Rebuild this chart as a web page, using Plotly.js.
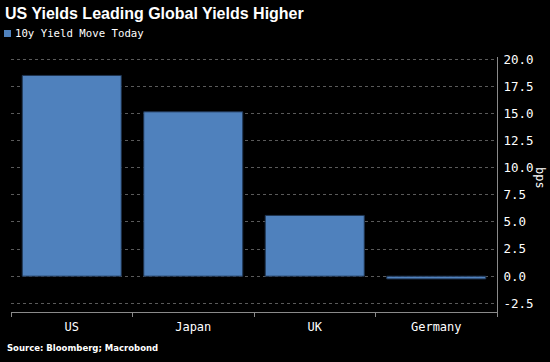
<!DOCTYPE html>
<html>
<head>
<meta charset="utf-8">
<script src="https://cdn.plot.ly/plotly-3.0.1.min.js"></script>
<style>
html,body{margin:0;padding:0;background:#000;}
#chart{width:550px;height:362px;}
</style>
</head>
<body>
<div id="chart"></div>
<script>
const categories = ["US", "Japan", "UK", "Germany"];
const yieldMove = [18.5, 15.15, 5.6, -0.25];
const tickVals = [-2.5, 0, 2.5, 5, 7.5, 10, 12.5, 15, 17.5, 20];
const tickText = ["-2.5", "0.0", "2.5", "5.0", "7.5", "10.0", "12.5", "15.0", "17.5", "20.0"];
const seriesName = "10y Yield Move Today";

const W = 550, H = 362, L = 11, R = 53, T = 57, B = 50;
const pw = W - L - R;
const px = v => (v - L) / pw;

const trace = {
  type: "bar",
  x: categories,
  y: yieldMove,
  name: seriesName,
  marker: {color: "#4f81bd", line: {color: "#1f3450", width: 1}},
  hoverinfo: "x+y"
};

const layout = {
  width: W, height: H,
  margin: {l: L, r: R, t: T, b: B, pad: 0},
  paper_bgcolor: "#000000",
  plot_bgcolor: "#000000",
  showlegend: false,
  bargap: 0.185,
  font: {family: "DejaVu Sans Mono", color: "#ffffff", size: 12},
  xaxis: {
    type: "category",
    showgrid: false,
    showline: true,
    linecolor: "#8a8a8a",
    linewidth: 1,
    ticks: "outside",
    tickson: "boundaries",
    ticklen: 4,
    tickcolor: "#8a8a8a",
    ticklabelstandoff: 4,
    tickfont: {family: "DejaVu Sans Mono", size: 12, color: "#ffffff"},
    fixedrange: true
  },
  yaxis: {
    side: "right",
    range: [-3.3, 20.2],
    tickvals: tickVals,
    ticktext: tickText,
    showgrid: true,
    gridcolor: "#5a5a5a",
    griddash: "dot",
    gridwidth: 1,
    zeroline: false,
    showline: true,
    linecolor: "#8a8a8a",
    linewidth: 1,
    ticks: "",
    ticklabelstandoff: 3,
    tickfont: {family: "DejaVu Sans Mono", size: 12.5, color: "#ffffff"},
    fixedrange: true
  },
  shapes: [
    {type: "rect", xref: "paper", yref: "paper",
     x0: px(4), x1: px(11), y0: 1 + (T - 37) / (H - T - B), y1: 1 + (T - 30) / (H - T - B),
     fillcolor: "#4f81bd", line: {width: 0}}
  ],
  annotations: [
    {text: "<b>US Yields Leading Global Yields Higher</b>", xref: "paper", yref: "paper",
     x: px(3), y: 1 + (T - 3) / (H - T - B), xanchor: "left", yanchor: "top", showarrow: false,
     font: {family: "Liberation Sans", size: 16, color: "#ffffff"}},
    {text: seriesName, xref: "paper", yref: "paper",
     x: px(13), y: 1 + (T - 33.5) / (H - T - B), xanchor: "left", yanchor: "middle", showarrow: false,
     font: {family: "DejaVu Sans Mono", size: 10.7, color: "#ffffff"}},
    {text: "<b>Source: Bloomberg; Macrobond</b>", xref: "paper", yref: "paper",
     x: px(5), y: -(348 - (H - B)) / (H - T - B), xanchor: "left", yanchor: "middle", showarrow: false,
     font: {family: "DejaVu Sans", size: 8.5, color: "#ffffff"}},
    {text: "bps", xref: "paper", yref: "paper", textangle: 90,
     x: px(540), y: 1 - (178 - T) / (H - T - B), xanchor: "center", yanchor: "middle", showarrow: false,
     font: {family: "DejaVu Sans Mono", size: 12, color: "#ffffff"}}
  ]
};

Plotly.newPlot("chart", [trace], layout, {displayModeBar: false, staticPlot: true});
</script>
</body>
</html>
